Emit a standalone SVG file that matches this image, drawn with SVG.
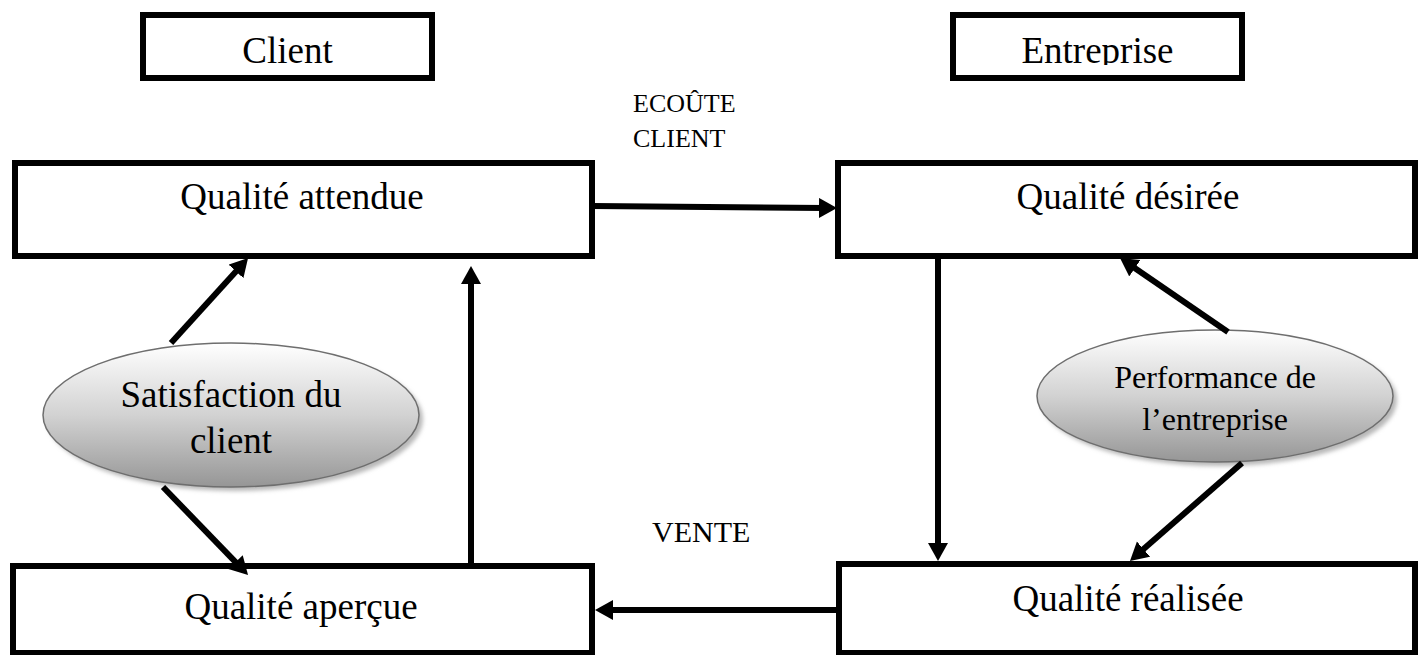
<svg xmlns="http://www.w3.org/2000/svg" width="1423" height="655" viewBox="0 0 1423 655">
<style>
.box{fill:#fff;stroke:#000;stroke-width:6}
.t{font-family:"Liberation Serif","Times New Roman",serif;fill:#000;text-anchor:middle}
.big{font-size:37px}
.lbl{font-family:"Liberation Serif","Times New Roman",serif;fill:#000}
.ell{fill:url(#g);stroke:#6e6e6e;stroke-width:1.5}
.shadow{fill:#b8b8b8;filter:url(#blur)}
.con{stroke:#000;stroke-width:6;fill:none;marker-end:url(#ah)}
</style>
<defs>
<linearGradient id="g" x1="0" y1="0" x2="0" y2="1">
<stop offset="0" stop-color="#ffffff"/>
<stop offset="0.5" stop-color="#d2d2d2"/>
<stop offset="1" stop-color="#969696"/>
</linearGradient>
<filter id="blur" x="-10%" y="-10%" width="120%" height="120%"><feGaussianBlur stdDeviation="2"/></filter>
<marker id="ah" markerUnits="userSpaceOnUse" markerWidth="22" markerHeight="22" refX="6" refY="10" orient="auto">
<path d="M0,0 L18,10 L0,20 z" fill="#000"/>
</marker>
<clipPath id="clipE"><rect x="956" y="18" width="283" height="47"/></clipPath>
</defs>
<rect width="1423" height="655" fill="#fff"/>

<g id="client">
<rect class="box" x="143" y="15" width="289" height="63"/>
<text class="t big" x="287.5" y="63">Client</text>
</g>
<g id="entreprise">
<rect class="box" x="953" y="15" width="289" height="63"/>
<text class="t big" x="1097.5" y="63" clip-path="url(#clipE)">Entreprise</text>
</g>
<g id="qualite-attendue">
<rect class="box" x="15" y="163" width="577" height="93"/>
<text class="t big" x="302" y="209">Qualité attendue</text>
</g>
<g id="qualite-desiree">
<rect class="box" x="838" y="163" width="577" height="93"/>
<text class="t big" x="1128" y="209">Qualité désirée</text>
</g>
<g id="qualite-apercue">
<rect class="box" x="13" y="566" width="579" height="87"/>
<text class="t big" x="301" y="619">Qualité aperçue</text>
</g>
<g id="qualite-realisee">
<rect class="box" x="839" y="564" width="576" height="89"/>
<text class="t big" x="1128" y="611">Qualité réalisée</text>
</g>
<g id="satisfaction">
<ellipse class="shadow" cx="235" cy="419" rx="188" ry="72"/>
<ellipse class="ell" cx="231" cy="415" rx="188" ry="72"/>
<text class="t big" x="231" y="407">Satisfaction du</text>
<text class="t big" x="231" y="453">client</text>
</g>
<g id="performance">
<ellipse class="shadow" cx="1219" cy="400" rx="178" ry="66"/>
<ellipse class="ell" cx="1215" cy="396" rx="178" ry="66"/>
<text class="t" font-size="32" x="1215" y="388">Performance de</text>
<text class="t" font-size="32" x="1215" y="430">l’entreprise</text>
</g>

<g id="labels">
<text class="lbl" font-size="26" x="633" y="112">ECOÛTE</text>
<text class="lbl" font-size="26" x="633" y="147">CLIENT</text>
<text class="lbl" font-size="30" x="652" y="542">VENTE</text>
</g>

<g id="connectors">
<line class="con" x1="593" y1="206" x2="825" y2="208"/>
<line class="con" x1="836" y1="610" x2="607" y2="610"/>
<line class="con" x1="471" y1="563" x2="471" y2="278"/>
<line class="con" x1="938" y1="259" x2="938" y2="549"/>
<line class="con" x1="171" y1="343" x2="240" y2="267"/>
<line class="con" x1="163" y1="487" x2="239.7" y2="566.4"/>
<line class="con" x1="1228" y1="332" x2="1129.9" y2="264.8"/>
<line class="con" x1="1242" y1="463" x2="1139" y2="553.1"/>
</g>
</svg>
